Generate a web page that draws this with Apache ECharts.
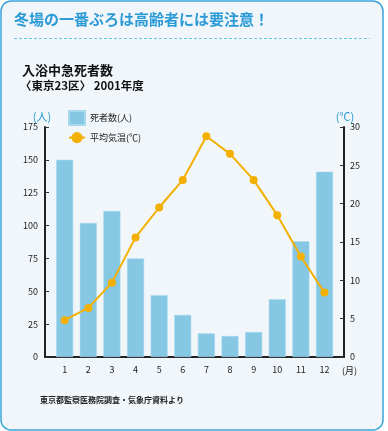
<!DOCTYPE html>
<html><head><meta charset="utf-8">
<script src="https://cdn.jsdelivr.net/npm/echarts@6/dist/echarts.min.js"></script>
<style>html,body{margin:0;padding:0;background:#fff}#c{width:388px;height:431px}</style>
</head><body><div id="c"></div>
<script>
const months = [1,2,3,4,5,6,7,8,9,10,11,12];
const monthLabels = ['1','2','3','4','5','6','7','8','9','10','11','12'];
const deaths = [150,102,111,75,47,32,18,16,19,44,88,141];
const temps = [4.8,6.4,9.7,15.6,19.5,23.1,28.8,26.5,23.1,18.5,13.1,8.4];
const deathTicks = [0,25,50,75,100,125,150,175];
const tempTicks = [0,5,10,15,20,25,30];

const FONT = '"Noto Sans CJK JP", "Noto Sans", sans-serif';
const BLUE = '#2a9ad6';
const BAR = '#86c8e4';
const LINE = '#f4b000';

const chart = echarts.init(document.getElementById('c'), null, {renderer:'canvas'});
chart.setOption({
  backgroundColor:'#ffffff',
  textStyle:{fontFamily:FONT},
  animation:false,
  title:[
    {text:'冬場の一番ぶろは高齢者には要注意！', left:14, top:12, padding:0,
     textStyle:{fontSize:15, color:BLUE, fontWeight:'bold', fontFamily:FONT}},
    {text:'入浴中急死者数', left:22, top:64, padding:0,
     textStyle:{fontSize:13, color:'#111', fontWeight:'bold', fontFamily:FONT}},
    {text:'〈東京23区〉 2001年度', left:20, top:80, padding:0,
     textStyle:{fontSize:11.5, color:'#111', fontWeight:'bold', fontFamily:FONT}},
    {text:'東京都監察医務院調査・気象庁資料より', left:40, top:396, padding:0,
     textStyle:{fontSize:8, color:'#222', fontWeight:'bold', fontFamily:FONT}}
  ],
  graphic:[
    {type:'rect', z:-10, shape:{x:1, y:1, width:382, height:429, r:10},
     style:{fill:'#f1f6fb', stroke:'#3aa5dd', lineWidth:1.5}},
    {type:'line', z:-9, shape:{x1:14, y1:38.5, x2:370, y2:38.5},
     style:{stroke:'#6cc3e8', lineWidth:1, lineDash:[3,2]}}
  ],
  legend:{
    orient:'vertical', left:68, top:110, itemWidth:16, itemHeight:14, itemGap:6,
    padding:0,
    textStyle:{fontSize:9, color:'#222', fontFamily:FONT},
    data:[{name:'死者数(人)', icon:'rect'}, {name:'平均気温(℃)'}]
  },
  grid:{left:45, right:44, top:127, bottom:74},
  xAxis:{
    type:'value', min:0.167, max:12.826,
    name:'(月)', nameLocation:'end', nameGap:-2,
    nameTextStyle:{fontSize:9, color:'#222', verticalAlign:'top', padding:[9,0,0,0]},
    axisLine:{show:true, lineStyle:{color:'#222', width:2}},
    axisTick:{show:false},
    splitLine:{show:false},
    axisLabel:{customValues:months, formatter:(v)=>monthLabels[months.indexOf(v)] ?? '',
      fontSize:9, color:'#222', margin:8}
  },
  yAxis:[
    {type:'value', min:0, max:175, interval:25, position:'left',
     name:'(人)', nameGap:4, nameTextStyle:{fontSize:11, color:BLUE, align:'center', padding:[0,6,0,0]},
     axisLine:{show:true, lineStyle:{color:'#222', width:2}},
     axisTick:{show:true, inside:true, length:4, lineStyle:{color:'#333'}},
     splitLine:{show:false},
     axisLabel:{fontSize:9, color:'#222', margin:7}},
    {type:'value', min:0, max:30, interval:5, position:'right',
     name:'(℃)', nameGap:4, nameTextStyle:{fontSize:11, color:BLUE, align:'center', padding:[0,0,0,2]},
     axisLine:{show:true, lineStyle:{color:'#222', width:2}},
     axisTick:{show:true, inside:true, length:4, lineStyle:{color:'#333'}},
     splitLine:{show:false},
     axisLabel:{fontSize:9, color:'#222', margin:6}}
  ],
  series:[
    {name:'死者数(人)', type:'bar', yAxisIndex:0, barWidth:17,
     data:months.map((m,i)=>[m, deaths[i]]),
     itemStyle:{color:BAR, borderColor:'#a8d8ee', borderWidth:0.5}},
    {name:'平均気温(℃)', type:'line', yAxisIndex:1,
     data:months.map((m,i)=>[m, temps[i]]),
     symbol:'circle', symbolSize:8,
     lineStyle:{color:LINE, width:2}, itemStyle:{color:LINE}}
  ]
});
</script></body></html>
